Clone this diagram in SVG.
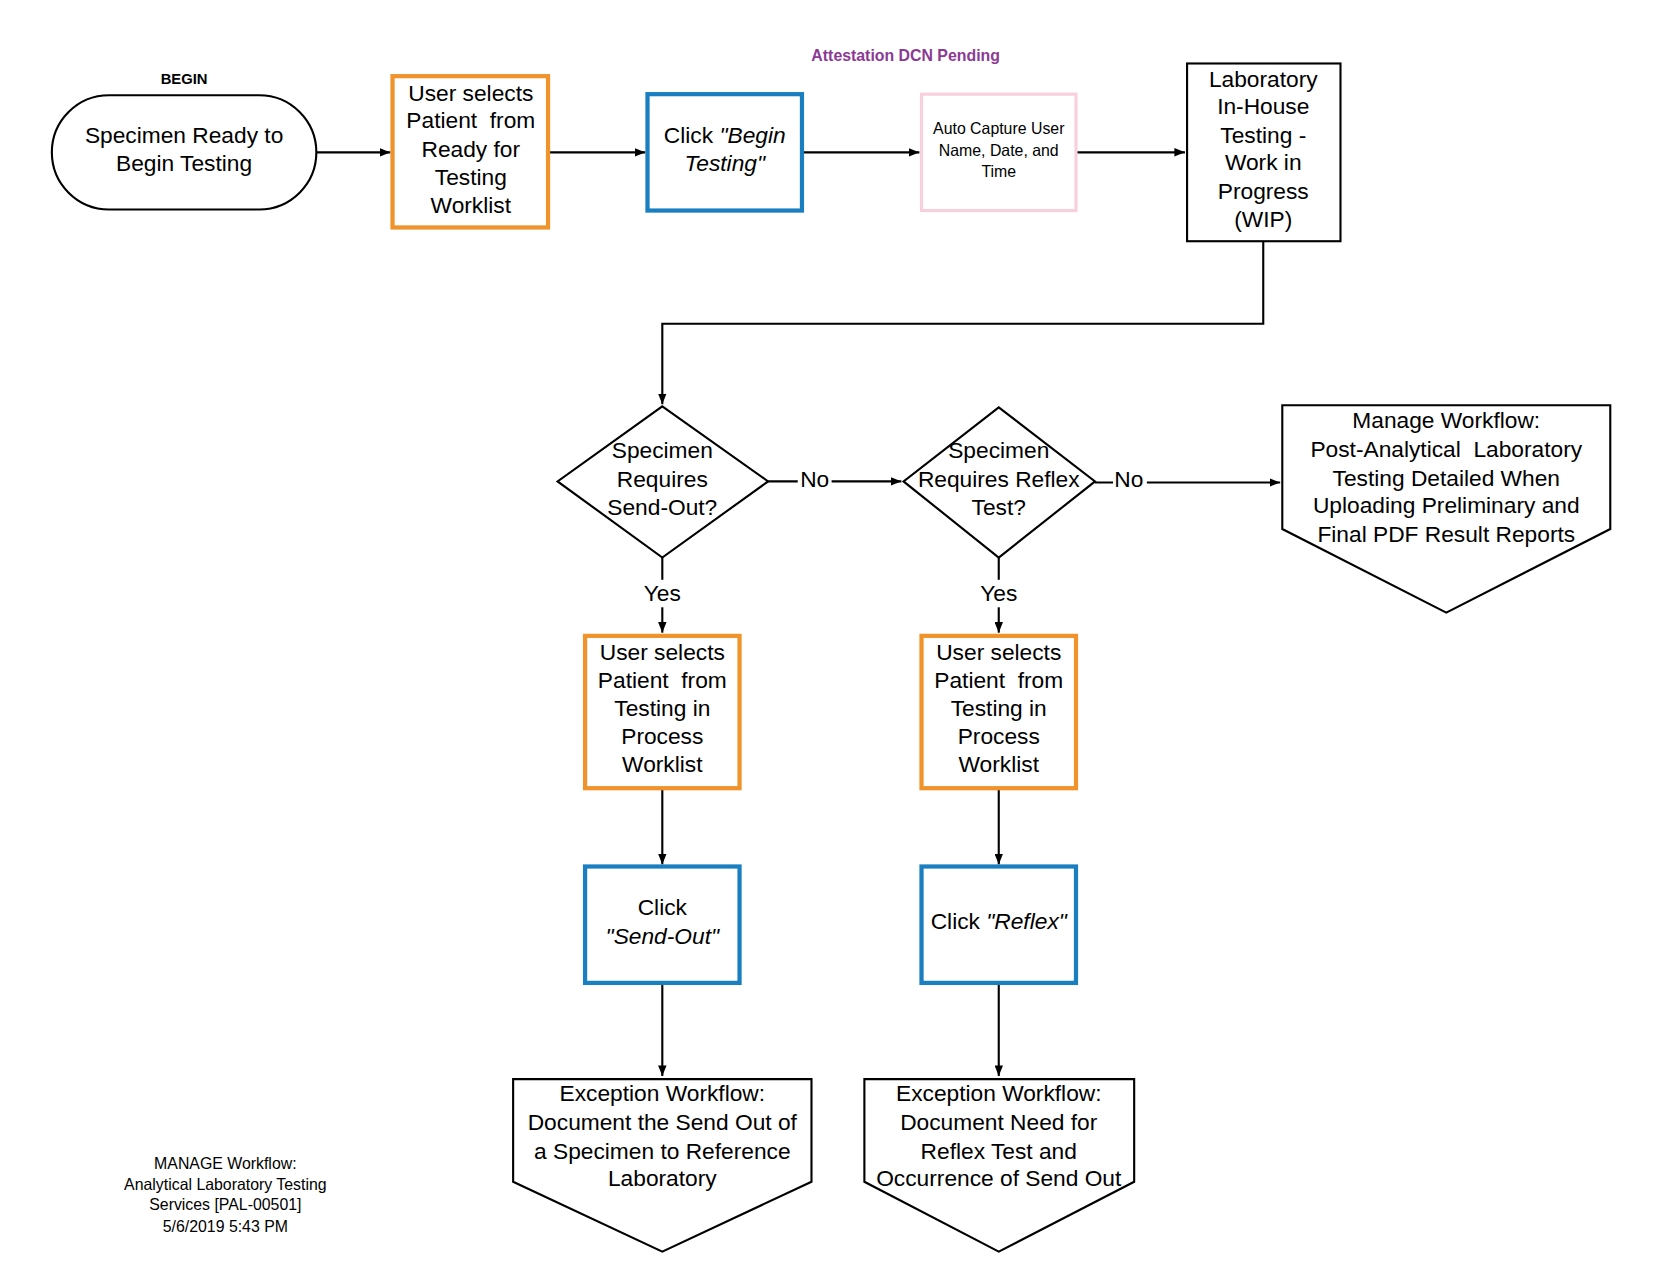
<svg xmlns="http://www.w3.org/2000/svg" width="1658" height="1281" viewBox="0 0 1658 1281">
<style>
text{font-family:"Liberation Sans",Arial,sans-serif;fill:#000;text-anchor:middle}
.t{font-size:21.5px}
.s{font-size:15px}
.k{fill:#fff;stroke:#000;stroke-width:2}
.o{fill:#fff;stroke:#F0932B;stroke-width:4}
.b{fill:#fff;stroke:#1A7FC1;stroke-width:4}
.p{fill:#fff;stroke:#F8D0DC;stroke-width:3}
.c{fill:none;stroke:#000;stroke-width:2;marker-end:url(#a)}
</style>
<defs><marker id="a" markerWidth="10" markerHeight="8" refX="10" refY="4" orient="auto" markerUnits="userSpaceOnUse"><path d="M0,0L10,4L0,8z" fill="#000"/></marker></defs>
<rect width="1658" height="1281" fill="#fff"/>
<g transform="scale(1.058)">
<text x="174" y="79" style="font-size:14px;font-weight:bold">BEGIN</text>
<text x="856" y="58" style="font-size:15px;font-weight:bold;fill:#8B3A94">Attestation DCN Pending</text>
<g id="connectors">
<path class="c" d="M299,144H369"/>
<path class="c" d="M518,144H610"/>
<path class="c" d="M758,144H869"/>
<path class="c" d="M1017,144H1120"/>
<path class="c" d="M1194,228V306H626V382"/>
<path class="c" d="M726,455H852"/>
<path class="c" d="M1035,456H1210"/>
<path class="c" d="M626,527V598"/>
<path class="c" d="M944,527V598"/>
<path class="c" d="M626,745V817"/>
<path class="c" d="M944,745V817"/>
<path class="c" d="M626,929V1017"/>
<path class="c" d="M944,929V1017"/>
<rect x="754" y="441" width="32" height="26" fill="#fff"/><text class="t" x="770" y="460">No</text>
<rect x="1052" y="441" width="32" height="26" fill="#fff"/><text class="t" x="1067" y="460">No</text>
<rect x="604" y="548" width="44" height="26" fill="#fff"/><text class="t" x="626" y="568">Yes</text>
<rect x="922" y="548" width="44" height="26" fill="#fff"/><text class="t" x="944" y="568">Yes</text>
</g>
<g id="start"><rect class="k" x="49" y="90" width="250" height="108" rx="54"/><text class="t" x="174" y="135">Specimen Ready to</text><text class="t" x="174" y="162">Begin Testing</text></g>
<g id="select1"><rect class="o" x="371" y="72" width="147" height="143"/><text class="t" x="445" y="95">User selects</text><text class="t" x="445" y="121">Patient&#160; from</text><text class="t" x="445" y="148">Ready for</text><text class="t" x="445" y="175">Testing</text><text class="t" x="445" y="201">Worklist</text></g>
<g id="begin"><rect class="b" x="612" y="89" width="146" height="110"/><text class="t" x="685" y="135">Click <tspan font-style="italic">"Begin</tspan></text><text class="t" x="685" y="162" font-style="italic">Testing"</text></g>
<g id="capture"><rect class="p" x="871" y="89" width="146" height="110"/><text class="s" x="944" y="127">Auto Capture User</text><text class="s" x="944" y="147">Name, Date, and</text><text class="s" x="944" y="167">Time</text></g>
<g id="wip"><rect class="k" x="1122" y="60" width="145" height="168"/><text class="t" x="1194" y="82">Laboratory</text><text class="t" x="1194" y="108">In-House</text><text class="t" x="1194" y="135">Testing -</text><text class="t" x="1194" y="161">Work in</text><text class="t" x="1194" y="188">Progress</text><text class="t" x="1194" y="215">(WIP)</text></g>
<g id="d1"><path class="k" d="M626,384L726,455L626,527L527,455Z"/><text class="t" x="626" y="433">Specimen</text><text class="t" x="626" y="460">Requires</text><text class="t" x="626" y="487">Send-Out?</text></g>
<g id="d2"><path class="k" d="M944,385L1035,455L944,527L854,455Z"/><text class="t" x="944" y="433">Specimen</text><text class="t" x="944" y="460">Requires Reflex</text><text class="t" x="944" y="487">Test?</text></g>
<g id="manage"><path class="k" d="M1212,383H1522V500L1367,579L1212,500Z"/><text class="t" x="1367" y="405">Manage Workflow:</text><text class="t" x="1367" y="432">Post-Analytical&#160; Laboratory</text><text class="t" x="1367" y="459">Testing Detailed When</text><text class="t" x="1367" y="485">Uploading Preliminary and</text><text class="t" x="1367" y="512">Final PDF Result Reports</text></g>
<g id="select2"><rect class="o" x="553" y="601" width="146" height="144"/><text class="t" x="626" y="624">User selects</text><text class="t" x="626" y="650">Patient&#160; from</text><text class="t" x="626" y="677">Testing in</text><text class="t" x="626" y="703">Process</text><text class="t" x="626" y="730">Worklist</text></g>
<g id="select3"><rect class="o" x="871" y="601" width="146" height="144"/><text class="t" x="944" y="624">User selects</text><text class="t" x="944" y="650">Patient&#160; from</text><text class="t" x="944" y="677">Testing in</text><text class="t" x="944" y="703">Process</text><text class="t" x="944" y="730">Worklist</text></g>
<g id="sendout"><rect class="b" x="553" y="819" width="146" height="110"/><text class="t" x="626" y="865">Click</text><text class="t" x="626" y="892" font-style="italic">"Send-Out"</text></g>
<g id="reflex"><rect class="b" x="871" y="819" width="146" height="110"/><text class="t" x="944" y="878">Click <tspan font-style="italic">"Reflex"</tspan></text></g>
<g id="exc1"><path class="k" d="M485,1020H767V1117L626,1183L485,1117Z"/><text class="t" x="626" y="1041">Exception Workflow:</text><text class="t" x="626" y="1068">Document the Send Out of</text><text class="t" x="626" y="1095">a Specimen to Reference</text><text class="t" x="626" y="1121">Laboratory</text></g>
<g id="exc2"><path class="k" d="M817,1020H1072V1117L944,1183L817,1117Z"/><text class="t" x="944" y="1041">Exception Workflow:</text><text class="t" x="944" y="1068">Document Need for</text><text class="t" x="944" y="1095">Reflex Test and</text><text class="t" x="944" y="1121">Occurrence of Send Out</text></g>
<g id="footer"><text class="s" x="213" y="1105">MANAGE Workflow:</text><text class="s" x="213" y="1125">Analytical Laboratory Testing</text><text class="s" x="213" y="1144">Services [PAL-00501]</text><text class="s" x="213" y="1164">5/6/2019 5:43 PM</text></g>
</g>
</svg>
